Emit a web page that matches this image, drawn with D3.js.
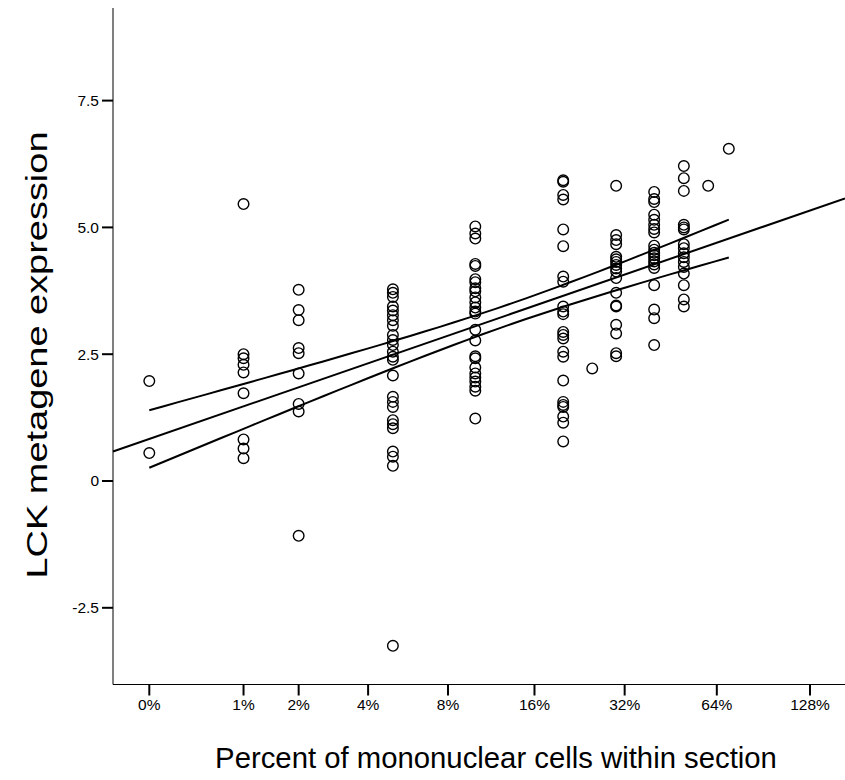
<!DOCTYPE html>
<html>
<head>
<meta charset="utf-8">
<script src="https://cdn.jsdelivr.net/npm/d3@7"></script>
<style>
body{margin:0;background:#fff}
text{font-family:"Liberation Sans",Arial,sans-serif;fill:#000}
</style>
</head>
<body>
<svg width="845" height="780"></svg>
<script>
// percent of mononuclear cells (x groups) and LCK metagene values per group
const pctGroups=[0,1,2,5,10,20,25,30,40,50,60,70]
const lck=[
[1.97,0.55],
[5.46,2.50,2.42,2.29,2.14,1.73,0.82,0.64,0.45],
[3.77,3.37,3.17,2.62,2.52,2.12,1.52,1.37,-1.08],
[3.78,3.71,3.63,3.44,3.36,3.27,3.17,3.06,2.88,2.78,2.68,2.55,2.45,2.39,2.08,1.66,1.56,1.46,1.20,1.12,1.04,0.58,0.48,0.30,-3.25],
[5.02,4.88,4.78,4.28,4.24,3.98,3.92,3.80,3.74,3.62,3.52,3.42,3.34,3.30,2.98,2.77,2.46,2.42,2.24,2.12,2.04,1.96,1.86,1.78,1.23],
[5.93,5.90,5.64,5.55,4.96,4.63,4.03,3.93,3.44,3.34,3.29,2.94,2.88,2.81,2.55,2.45,1.98,1.56,1.50,1.46,1.27,1.15,0.78],
[2.22],
[5.82,4.85,4.75,4.67,4.42,4.37,4.32,4.26,4.19,4.13,4.00,3.71,3.46,3.44,3.08,2.91,2.52,2.46],
[5.70,5.56,5.50,5.25,5.15,5.05,4.97,4.90,4.64,4.56,4.50,4.45,4.39,4.33,4.27,4.20,3.86,3.38,3.21,2.68],
[6.21,5.97,5.72,5.05,5.00,4.96,4.67,4.59,4.49,4.41,4.32,4.22,4.09,3.86,3.58,3.44],
[5.82],
[6.55]
]
const xTicks=[0,1,2,4,8,16,32,64,128]
const yTicks=[-2.5,0,2.5,5.0,7.5]
const yTickLabels=["-2.5","0","2.5","5.0","7.5"]

const svg=d3.select("svg")
const axL=113,axR=845,axT=8,axB=684.5

// axis is log2 of (1 + percent)
const x=d3.scaleLog().base(2).domain([1,129]).range([149.3,810])
const y=d3.scaleLinear().domain([0,7.5]).range([481,100.6])
const px=p=>x(1+p)

const pts=[]
pctGroups.forEach((p,i)=>lck[i].forEach(v=>pts.push({p:p,t:Math.log2(1+p),v:v})))

// ordinary least squares on log2(1+p), with 95% CI of the mean
const n=pts.length
const tb=d3.mean(pts,d=>d.t),vb=d3.mean(pts,d=>d.v)
const sxx=d3.sum(pts,d=>(d.t-tb)*(d.t-tb))
const sxy=d3.sum(pts,d=>(d.t-tb)*(d.v-vb))
const slope=sxy/sxx,icpt=vb-slope*tb
const sse=d3.sum(pts,d=>Math.pow(d.v-icpt-slope*d.t,2))
const sd=Math.sqrt(sse/(n-2)),tcrit=1.976
const fit=t=>icpt+slope*t
const half=t=>tcrit*sd*Math.sqrt(1/n+(t-tb)*(t-tb)/sxx)

// axes
svg.append("line").attr("x1",axL).attr("x2",axL).attr("y1",axT).attr("y2",axB).attr("stroke","#000")
svg.append("line").attr("x1",axL).attr("x2",axR).attr("y1",axB).attr("y2",axB).attr("stroke","#000")

const yt=svg.append("g")
yt.selectAll("line").data(yTicks).join("line")
.attr("x1",axL-11).attr("x2",axL).attr("y1",d=>y(d)).attr("y2",d=>y(d))
.attr("stroke","#000").attr("stroke-width",2)
yt.selectAll("text").data(yTicks).join("text")
.attr("x",axL-14).attr("y",d=>y(d)).attr("dy","0.35em").attr("text-anchor","end")
.attr("font-size",15.5).text((d,i)=>yTickLabels[i])

const xt=svg.append("g")
xt.selectAll("line").data(xTicks).join("line")
.attr("x1",d=>px(d)).attr("x2",d=>px(d)).attr("y1",axB).attr("y2",axB+11)
.attr("stroke","#000").attr("stroke-width",2)
xt.selectAll("text").data(xTicks).join("text")
.attr("x",d=>px(d)).attr("y",710).attr("text-anchor","middle")
.attr("font-size",15.5).text(d=>d+"%")

// regression line across the plot, CI bands over the data range
const line=d3.line().x(d=>d[0]).y(d=>d[1])
const tL=Math.log2(x.invert(axL)),tR=Math.log2(x.invert(axR))
svg.append("path").attr("d",line([[axL,y(fit(tL))],[axR,y(fit(tR))]]))
.attr("fill","none").attr("stroke","#000").attr("stroke-width",2)

const tMin=d3.min(pts,d=>d.t),tMax=d3.max(pts,d=>d.t)
const ts=d3.range(0,41).map(k=>tMin+(tMax-tMin)*k/40)
;[1,-1].forEach(sg=>{
svg.append("path").attr("d",line(ts.map(t=>[x(Math.pow(2,t)),y(fit(t)+sg*half(t))])))
.attr("fill","none").attr("stroke","#000").attr("stroke-width",2)
})

svg.append("g").selectAll("circle").data(pts).join("circle")
.attr("cx",d=>px(d.p)).attr("cy",d=>y(d.v)).attr("r",5.3)
.attr("fill","none").attr("stroke","#000").attr("stroke-width",1.4)

svg.append("text").attr("x",496).attr("y",768).attr("text-anchor","middle")
.attr("font-size",29.3).text("Percent of mononuclear cells within section")
svg.append("text").attr("transform","translate(47,355) rotate(-90)").attr("text-anchor","middle")
.attr("font-size",30).attr("textLength",447).attr("lengthAdjust","spacingAndGlyphs")
.text("LCK metagene expression")
</script>
</body>
</html>
